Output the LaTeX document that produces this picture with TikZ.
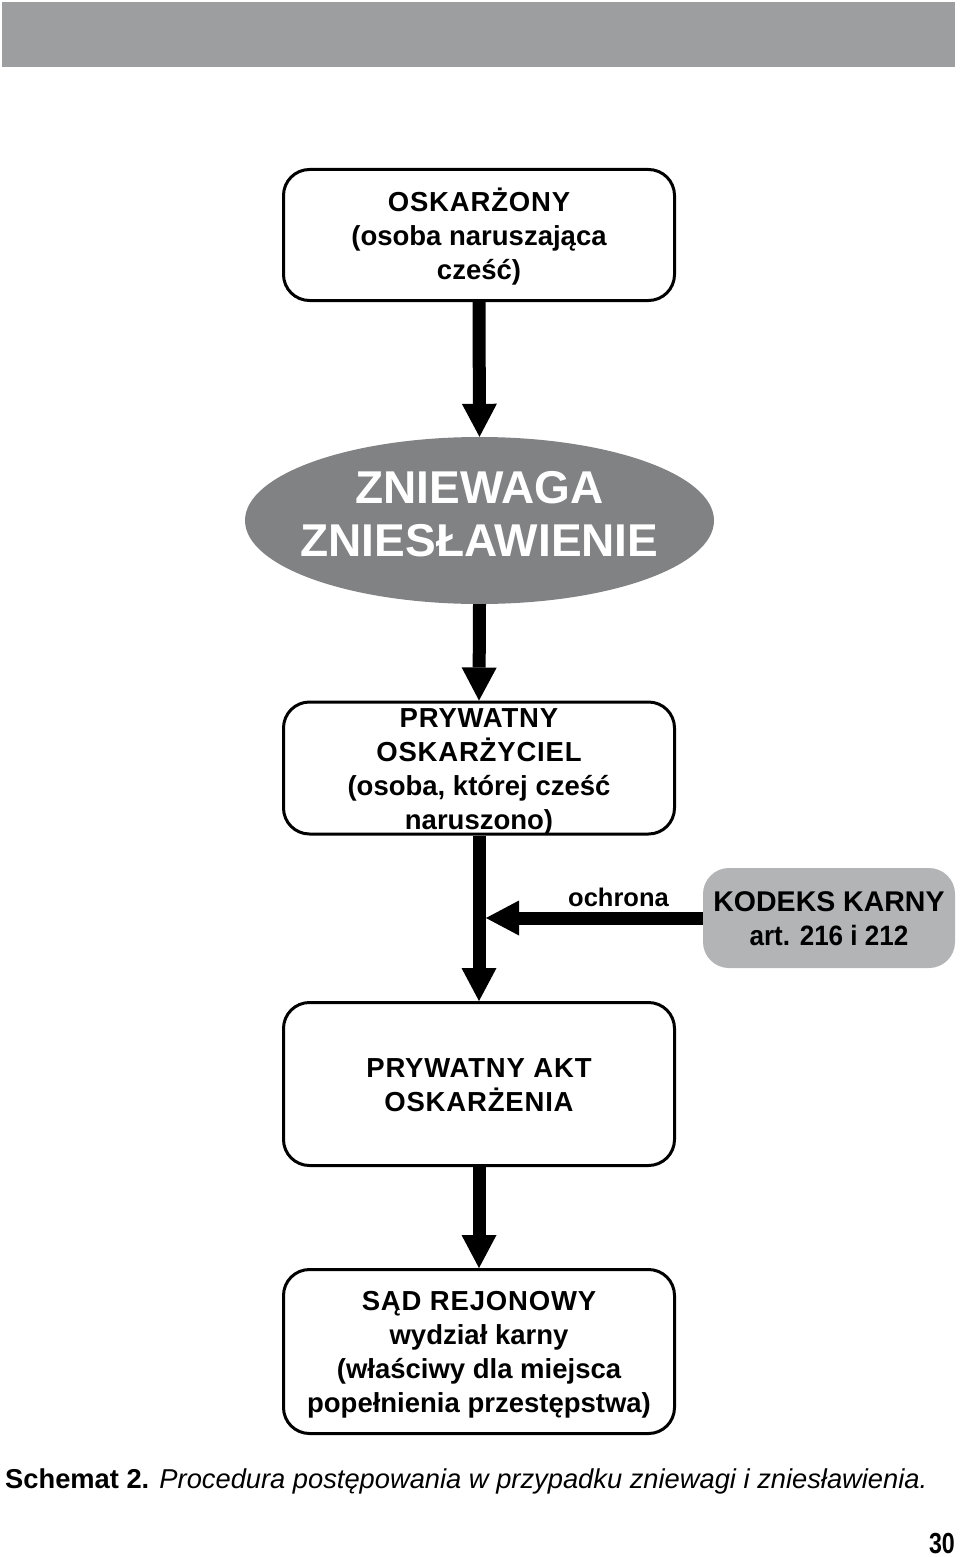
\documentclass[tikz,border=0pt]{standalone}
\usepackage{fontspec}
\setmainfont{Liberation Sans}
\newfontfamily\capsfont[LetterSpace=3]{Liberation Sans}
\newfontfamily\narrowfont[FakeStretch=0.93]{Liberation Sans}
\newfontfamily\pagefont[FakeStretch=0.8]{Liberation Sans}
\usetikzlibrary{arrows.meta,shapes.geometric}
\definecolor{barcol}{HTML}{9D9EA0}
\definecolor{ellcol}{HTML}{818284}
\definecolor{kkcol}{HTML}{B3B4B6}
\begin{document}
\begin{tikzpicture}[x=1pt,y=-1pt,
  box/.style={draw, line width=3pt, rounded corners=26pt, minimum width=391pt, inner sep=0pt},
  boxtext/.style={inner sep=0pt, align=center, font=\fontsize{27.5}{34}\selectfont\bfseries},
  flow/.style={line width=13pt, -{Triangle[width=35pt,length=33pt,line width=0pt]}},
]
\path[use as bounding box] (0,0) rectangle (960,1557);
\fill[barcol] (2,2) rectangle (955,67);

% shapes
\node[box, minimum height=131pt] (a) at (479,235) {};
\node[ellipse, fill=ellcol, inner sep=0pt, minimum width=469pt, minimum height=167pt] (b) at (479.5,520.5) {};
\node[box, minimum height=132pt] (c) at (479,768) {};
\node[box, minimum height=163pt] (d) at (479,1084) {};
\node[box, minimum height=164pt] (e) at (479,1351.5) {};
\node[fill=kkcol, rounded corners=26pt, minimum width=252pt, minimum height=100pt, inner sep=0pt] (k) at (829,918) {};

% texts
\node[boxtext] (at) at (479,237)
  {{\capsfont OSKARŻONY}\\(osoba naruszająca\\cześć)};
\node[inner sep=0pt, text=white, align=center, font=\fontsize{46}{53}\selectfont\bfseries] (bt) at (479.5,514.5)
  {ZNIEWAGA\\ZNIESŁAWIENIE};
\node[boxtext] (ct) at (479,771.5)
  {{\capsfont PRYWATNY}\\{\capsfont OSKARŻYCIEL}\\(osoba, której cześć\\naruszono)};
\node[boxtext] (dt) at (479,1085)
  {{\capsfont PRYWATNY AKT}\\{\capsfont OSKARŻENIA}};
\node[boxtext] (et) at (479,1355)
  {{\capsfont SĄD REJONOWY}\\wydział karny\\(właściwy dla miejsca\\popełnienia przestępstwa)};
\node[inner sep=0pt, align=center, font=\fontsize{28.5}{34}\selectfont\bfseries] (kt) at (829,919)
  {KODEKS KARNY\\{\narrowfont\fontsize{28}{34}\selectfont art. 216 i 212}};
\node[anchor=base east, inner sep=0pt, font=\fontsize{25.5}{30}\selectfont\bfseries] (o) at (669,906) {ochrona};

% connectors
\coordinate (j) at (486,918);
\draw[flow] (a.south) -- (b.north);
\draw[flow] (b.south) -- (c.north);
\draw[flow] (c.south) -- (d.north);
\draw[flow] (d.south) -- (e.north);
\draw[flow] (k.west) -- (j);

\node[anchor=base west, inner sep=0pt, font=\fontsize{27.3}{32}\selectfont] (cap) at (5,1488)
  {\textbf{Schemat 2.} \textit{Procedura postępowania w przypadku zniewagi i zniesławienia.}};
\node[anchor=base east, inner sep=0pt, font=\pagefont\fontsize{29}{34}\selectfont\bfseries] (p) at (955,1553) {30};
\end{tikzpicture}
\end{document}
